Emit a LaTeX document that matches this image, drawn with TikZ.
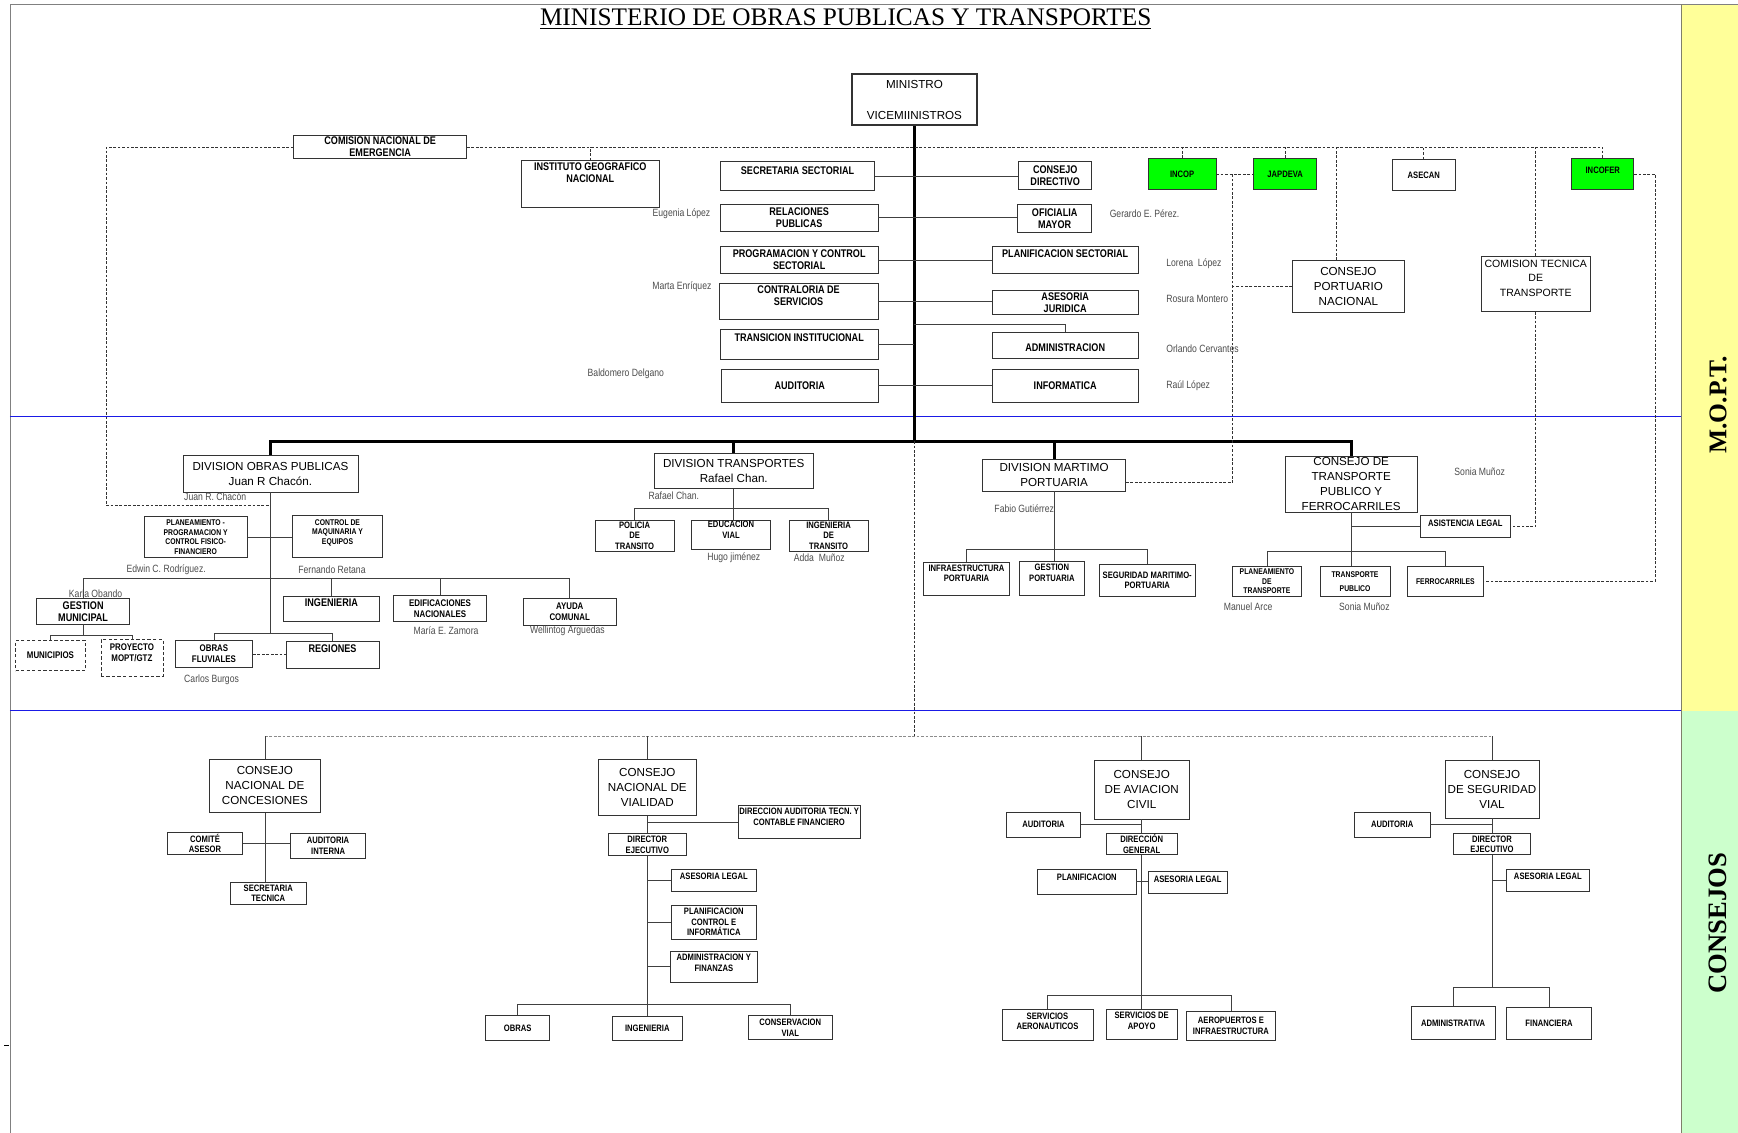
\documentclass[tikz,border=0pt]{standalone}
\usepackage{fontspec}
\setmainfont{Liberation Sans}
\newfontfamily\angosta[FakeStretch=0.82]{Liberation Sans}
\newfontfamily\serifa{Liberation Serif}
\definecolor{amarillo}{HTML}{FFFF99}
\definecolor{verdeclaro}{HTML}{CCFFCC}
\definecolor{verdecaja}{HTML}{00FF00}
\definecolor{azul}{HTML}{1A1AE6}
\definecolor{borde}{HTML}{7F7F6A}
\newcommand\fcaja{\angosta\bfseries\fontsize{10}{11}\selectfont}
\newcommand\fmedia{\angosta\bfseries\fontsize{8.7}{10}\selectfont}
\newcommand\fchica{\angosta\bfseries\fontsize{8.4}{9.5}\selectfont}
\newcommand\fmini{\angosta\bfseries\fontsize{7.5}{8.5}\selectfont}
\newcommand\fgrande{\fontsize{10.5}{13.5}\selectfont}
\newcommand\fnombre{\angosta\fontsize{9.5}{11}\selectfont}
\tikzset{
 caja/.style={draw=black!80,fill=white,line width=.6pt,inner sep=1pt,align=center,font=\fcaja},
 media/.style={caja,font=\fmedia},
 chica/.style={caja,font=\fchica},
 mini/.style={caja,font=\fmini},
 grande/.style={caja,font=\fgrande},
 tam/.style 2 args={minimum width=#1,minimum height=#2},
 verde/.style={fill=verdecaja},
 rayada/.style={densely dashed},
 linea/.style={draw=black!75,line width=.6pt},
 barra/.style={line width=2.6pt},
 punteada/.style={draw=black!80,line width=.6pt,dash pattern=on 2.5pt off 1.5pt},
 punteadagris/.style={draw=black!45,line width=.8pt,dash pattern=on 2.5pt off 1.5pt},
 nombre/.style={font=\fnombre,text=black!70,inner sep=0pt},
}
\begin{document}
\begin{tikzpicture}[x=1pt,y=-1pt]
\useasboundingbox(0,0)rectangle(1568,1022);
%fondo
\fill[amarillo](1517,4)rectangle(1568,641);
\fill[verdeclaro](1517,641)rectangle(1568,1022);
\draw[black!50,line width=.8pt](9,1022)--(9,4)--(1568,4);
\draw[borde,line width=1.5pt](1517,4)--(1517,1022);
\draw[azul,line width=.8pt](9,376)--(1517,376);
\draw[azul,line width=.8pt](9,641)--(1517,641);
\draw[line width=1pt](4,943)--(8,943);
\node[font=\serifa\fontsize{22.8}{23}\selectfont](titulo)at(763,17){\underline{MINISTERIO DE OBRAS PUBLICAS Y TRANSPORTES}};
\node[rotate=90,font=\serifa\bfseries\fontsize{23}{23}\selectfont](mopt)at(1550,365){M.O.P.T.};
\node[rotate=90,font=\serifa\bfseries\fontsize{24}{24}\selectfont](consejostxt)at(1550,833){CONSEJOS};
%ministro
\node[grande,tam={112}{46},line width=1.8pt](ministro)at(825,90){MINISTRO\\[14pt]VICEMIINISTROS};
%columna izquierda
\node[caja,tam={156}{21}](cne)at(343,132.5){COMISION NACIONAL DE\\EMERGENCIA};
\node[caja,tam={125}{42}](ign)at(532.5,166){INSTITUTO GEOGRAFICO\\NACIONAL\\[9pt]\mbox{}};
\node[caja,tam={139}{26}](secsec)at(719.5,159){SECRETARIA SECTORIAL\\\mbox{}};
\node[caja,tam={142}{25}](relpub)at(721,196.5){RELACIONES\\PUBLICAS};
\node[caja,tam={142}{25}](progctrl)at(721,234.5){PROGRAMACION Y CONTROL\\SECTORIAL};
\node[caja,tam={143}{32}](contral)at(720.5,272){CONTRALORIA DE\\SERVICIOS\\\mbox{}};
\node[caja,tam={142}{27}](transinst)at(721,310.5){TRANSICION INSTITUCIONAL\\\mbox{}};
\node[caja,tam={141}{30}](audit)at(721.5,348){AUDITORIA};
%columna derecha
\node[caja,tam={66}{25}](consdir)at(952,158.5){CONSEJO\\DIRECTIVO};
\node[caja,tam={67}{26}](ofimay)at(951.5,197){OFICIALIA\\MAYOR};
\node[caja,tam={132}{25}](plansec)at(961,234.5){PLANIFICACION SECTORIAL\\\mbox{}};
\node[caja,tam={132}{22}](asejur)at(961,273){ASESORIA\\JURIDICA};
\node[caja,tam={132}{23}](admin)at(961,311.5){\mbox{}\\ADMINISTRACION};
\node[caja,tam={132}{30}](informat)at(961,348){INFORMATICA};
%adscritos
\node[chica,verde,tam={61}{28}](incop)at(1066.5,157){INCOP};
\node[chica,verde,tam={57}{28}](japdeva)at(1159.5,157){JAPDEVA};
\node[chica,tam={57}{28}](asecan)at(1284.5,158){ASECAN};
\node[chica,verde,tam={56}{28}](incofer)at(1446,157){INCOFER\\[-3pt]\mbox{}};
\node[grande,tam={101}{47}](cpn)at(1216.5,258.5){CONSEJO\\PORTUARIO\\NACIONAL};
\node[grande,tam={99}{50},font=\fontsize{9.5}{13}\selectfont](ctt)at(1385.5,256){COMISION TECNICA\\DE\\TRANSPORTE\\[-3pt]\mbox{}};
%divisiones
\node[grande,tam={158}{33}](dop)at(244,427.5){DIVISION OBRAS PUBLICAS\\Juan R Chacón.};
\node[grande,tam={143}{32}](dtr)at(662,425){DIVISION TRANSPORTES\\Rafael Chan.};
\node[grande,tam={129}{29}](dmp)at(951,428.5){DIVISION MARTIMO\\PORTUARIA};
\node[grande,tam={119}{50},inner sep=0pt](ctpf)at(1219,437){CONSEJO DE\\TRANSPORTE\\PUBLICO Y\\FERROCARRILES};
%obras publicas
\node[mini,tam={93}{37}](planea)at(176.5,484.5){PLANEAMIENTO -\\PROGRAMACION Y\\CONTROL FISICO-\\FINANCIERO};
\node[mini,tam={81}{38}](ctrlmaq)at(304.5,484){CONTROL DE\\MAQUINARIA Y\\EQUIPOS\\\mbox{}};
\node[caja,tam={84}{23}](gesmun)at(75,551.5){GESTION\\MUNICIPAL};
\node[caja,tam={86}{23}](ingop)at(299,549.5){INGENIERIA\\\mbox{}};
\node[media,tam={84}{24}](edif)at(397,549){EDIFICACIONES\\NACIONALES};
\node[media,tam={84}{24}](ayuda)at(514,552){AYUDA\\COMUNAL};
\node[media,rayada,tam={63}{27}](muni)at(45.5,591.5){MUNICIPIOS};
\node[media,rayada,tam={56}{33}](proy)at(119,593.5){PROYECTO\\MOPT/GTZ\\\mbox{}};
\node[media,tam={70}{24}](fluv)at(193,590){OBRAS\\FLUVIALES};
\node[caja,tam={84}{24}](reg)at(300,591){REGIONES\\\mbox{}};
%transportes
\node[chica,tam={71}{28}](polic)at(572.5,483){POLICIA\\DE\\TRANSITO};
\node[chica,tam={71}{27}](educ)at(659.5,482.5){EDUCACION\\VIAL\\\mbox{}};
\node[chica,tam={71}{28}](ingtr)at(747.5,483){INGENIERIA\\DE\\TRANSITO};
%maritimo portuaria
\node[chica,tam={78}{30}](infra)at(872,522){INFRAESTRUCTURA\\PORTUARIA\\\mbox{}};
\node[chica,tam={58}{31}](gestp)at(949,521.5){GESTION\\PORTUARIA\\\mbox{}};
\node[chica,tam={86}{29}](segmar)at(1035,523.5){SEGURIDAD MARITIMO-\\PORTUARIA};
%transporte publico
\node[chica,tam={82}{20}](asleg)at(1322,475){ASISTENCIA LEGAL\\[-3pt]\mbox{}};
\node[mini,tam={62}{27}](plantr)at(1143,524.5){PLANEAMIENTO\\DE\\TRANSPORTE};
\node[mini,tam={63}{27}](transpub)at(1222.5,524.5){TRANSPORTE\\[4pt]PUBLICO};
\node[mini,tam={68}{27}](ferro)at(1304,524.5){FERROCARRILES};
%consejos
\node[grande,tam={100}{48}](cnc)at(239,709){CONSEJO\\NACIONAL DE\\CONCESIONES};
\node[chica,tam={68}{20}](comite)at(185,761){COMITÉ\\ASESOR};
\node[chica,tam={68}{22}](audint)at(296,763){AUDITORIA\\INTERNA};
\node[chica,tam={68}{20}](sectec)at(242,806){SECRETARIA\\TECNICA};
\node[grande,tam={89}{51}](cnv)at(584,710.5){CONSEJO\\NACIONAL DE\\VIALIDAD};
\node[chica,tam={110}{29}](diraud)at(721,741.5){DIRECCION AUDITORIA TECN. Y\\CONTABLE FINANCIERO\\\mbox{}};
\node[chica,tam={71}{20}](direj)at(584,762){DIRECTOR\\EJECUTIVO};
\node[chica,tam={76}{20}](asl1)at(644,794){ASESORIA LEGAL\\[-3pt]\mbox{}};
\node[chica,tam={76}{30}](planinf)at(644,832){PLANIFICACION\\CONTROL E\\INFORMÁTICA};
\node[chica,tam={78}{28}](admfin)at(644,872){ADMINISTRACION Y\\FINANZAS\\[-3pt]\mbox{}};
\node[chica,tam={58}{23}](obras)at(467,927.5){OBRAS};
\node[chica,tam={63}{22}](ingv)at(584,928){INGENIERIA};
\node[chica,tam={76}{22}](conserv)at(713,927){CONSERVACION\\VIAL};
\node[grande,tam={86}{53}](cac)at(1030,712.5){CONSEJO\\DE AVIACION\\CIVIL};
\node[chica,tam={67}{22}](audac)at(941.5,744){AUDITORIA};
\node[chica,tam={64}{19}](dirgen)at(1030,761.5){DIRECCIÓN\\GENERAL};
\node[chica,tam={89}{23}](planac)at(980.5,795.5){PLANIFICACION\\[-2pt]\mbox{}};
\node[chica,tam={71}{20}](asl2)at(1071.5,796){ASESORIA LEGAL\\[-4pt]\mbox{}};
\node[chica,tam={82}{28}](servaer)at(945,925){SERVICIOS\\AERONAUTICOS\\[-2pt]\mbox{}};
\node[chica,tam={64}{27}](servapo)at(1030,924.5){SERVICIOS DE\\APOYO\\[-2pt]\mbox{}};
\node[chica,tam={81}{27}](aerop)at(1110.5,925.5){AEROPUERTOS E\\INFRAESTRUCTURA};
\node[grande,tam={85}{52}](csv)at(1346,712){CONSEJO\\DE SEGURIDAD\\VIAL};
\node[chica,tam={68}{22}](audsv)at(1256,744){AUDITORIA};
\node[chica,tam={70}{19}](dirsv)at(1346,761.5){DIRECTOR\\EJECUTIVO};
\node[chica,tam={75}{20}](asl3)at(1396.5,794){ASESORIA LEGAL\\[-3pt]\mbox{}};
\node[chica,tam={76}{30}](admva)at(1311,923){ADMINISTRATIVA};
\node[chica,tam={77}{29}](finan)at(1397.5,923.5){FINANCIERA};
%nombres
\node[nombre,anchor=east](n1)at(641,193){Eugenia López};
\node[nombre,anchor=west](n2)at(1001,193){Gerardo E. Pérez.};
\node[nombre,anchor=east](n3)at(642,259){Marta Enríquez};
\node[nombre,anchor=west](n4)at(1052,238){Lorena\ \ López};
\node[nombre,anchor=west](n5)at(1052,270){Rosura Montero};
\node[nombre,anchor=west](n6)at(1052,315){Orlando Cervantes};
\node[nombre,anchor=west](n7)at(1052,348){Raúl López};
\node[nombre,anchor=west](n8)at(530,337){Baldomero Delgano};
\node[nombre,anchor=west](n9)at(166,448){Juan R. Chacón};
\node[nombre,anchor=west](n10)at(114,514){Edwin C. Rodríguez.};
\node[nombre,anchor=west](n11)at(269,514){Fernando Retana};
\node[nombre,anchor=west](n12)at(62,536){Karla Obando};
\node[nombre,anchor=west](n13)at(373,569){María E. Zamora};
\node[nombre,anchor=west](n14)at(478,569){Wellintog Arguedas};
\node[nombre,anchor=west](n15)at(166,613){Carlos Burgos};
\node[nombre,anchor=west](n16)at(585,447){Rafael Chan.};
\node[nombre,anchor=west](n17)at(638,503){Hugo jiménez};
\node[nombre,anchor=west](n18)at(716,503){Adda\ \ Muñoz};
\node[nombre,anchor=west](n19)at(897,459){Fabio Gutiérrez};
\node[nombre,anchor=west](n20)at(1312,426){Sonia Muñoz};
\node[nombre,anchor=west](n21)at(1104,547){Manuel Arce};
\node[nombre,anchor=west](n22)at(1208,547){Sonia Muñoz};
%lineas principales
\coordinate(eje)at(825,398);
\draw[barra](ministro.south)--(eje);
\draw[barra](dop.north)|-(eje)-|(ctpf.north);
\draw[barra](dtr.north)--(dtr.north|-eje);
\draw[barra](dmp.north)--(dmp.north|-eje);
%staff
\draw[linea](secsec.east)--(secsec.east-|consdir.west);
\draw[linea](relpub.east)--(relpub.east-|ofimay.west);
\draw[linea](progctrl.east)--(plansec.west);
\draw[linea](contral.east)--(contral.east-|asejur.west);
\draw[linea](transinst.east)--(transinst.east-|eje);
\draw[linea](audit.east)--(informat.west);
\coordinate(admrama)at(825,293);
\draw[linea](admrama)-|(admin.north);
%adscritos
\coordinate(cneizq)at(96,132.5);
\coordinate(cnebajo)at(96,456);
\coordinate(cnefin)at(1446,132.5);
\draw[punteada](cne.west)--(cneizq)--(cnebajo)--(cnebajo-|dop.south);
\draw[punteada](cne.east)--(cnefin)--(incofer.north);
\foreach \n in {ign,incop,japdeva,asecan,ctt}
 \draw[punteada](\n.north)--(\n.north|-cnefin);
\draw[punteada]([xshift=-11pt]cpn.north)--([xshift=-11pt]cpn.north|-cnefin);
\coordinate(japv)at(1112,157);
\draw[punteada](incop.east)--(japdeva.west);
\draw[punteada]([yshift=-7pt]dmp.east)-|(japv);
\draw[punteada](cpn.west)--(cpn.west-|japv);
\draw[punteada](ctt.south)|-(asleg.east);
\coordinate(incoferv)at(1493,157);
\draw[punteada](incofer.east)--(incoferv)|-(ferro.east);
%obras publicas
\coordinate(doprama)at(244,522);
\coordinate(dopfin)at(244,571);
\draw[linea](dop.south)--(dopfin);
\draw[linea](planea.east)--(planea.east-|ctrlmaq.west);
\draw[linea](gesmun.north)|-(doprama)-|(ayuda.north);
\draw[linea](ingop.north)--(ingop.north|-doprama);
\draw[linea](edif.north)--(edif.north|-doprama);
\draw[linea](fluv.north)|-(dopfin)-|(reg.north);
\draw[punteada](fluv.east)--(fluv.east-|reg.west);
\coordinate(gmrama)at(75,573);
\draw[linea](gesmun.south)--(gmrama);
\draw[linea](muni.north)|-(gmrama)-|(proy.north);
%transportes
\coordinate(dtrama)at(662,459);
\draw[linea](dtr.south)--(dtr.south|-educ.north);
\draw[linea](polic.north)|-(dtrama)-|(ingtr.north);
%maritimo
\coordinate(dmprama)at(951,496);
\draw[linea](dmp.south)--(dmp.south|-gestp.north);
\draw[linea](infra.north)|-(dmprama)-|(segmar.north);
%transporte publico
\coordinate(ctprama)at(1219,497);
\draw[linea](ctpf.south)--(ctpf.south|-transpub.north);
\draw[linea](asleg.west)--(asleg.west-|ctpf.south);
\draw[linea](plantr.north)|-(ctprama)-|(ferro.north);
%consejos
\coordinate(consejos)at(825,664);
\draw[punteada](eje)--(consejos);
\draw[punteadagris](cnc.north|-consejos)--(csv.north|-consejos);
\foreach \n in {cnc,cnv,cac,csv}
 \draw[linea](\n.north)--(\n.north|-consejos);
\draw[linea](cnc.south)--(cnc.south|-sectec.north);
\draw[linea](comite.east)--(comite.east-|audint.west);
\coordinate(cnvrama)at(584,906);
\draw[linea](cnv.south)--(direj.north);
\draw[linea](direj.south)--(ingv.north);
\draw[linea](diraud.west)--(diraud.west-|cnv.south);
\foreach \n in {asl1,planinf,admfin}
 \draw[linea](\n.west)--(\n.west-|direj.south);
\draw[linea](obras.north)|-(cnvrama)-|(conserv.north);
\coordinate(cacrama)at(1030,898);
\draw[linea](cac.south)--(dirgen.north);
\draw[linea](audac.east)--(audac.east-|cac.south);
\draw[linea](dirgen.south)--(servapo.north);
\draw[linea](planac.east)--(planac.east-|asl2.west);
\draw[linea](servaer.north)|-(cacrama)-|(aerop.north);
\coordinate(csvrama)at(1346,891);
\draw[linea](csv.south)--(dirsv.north);
\draw[linea](audsv.east)--(audsv.east-|csv.south);
\draw[linea](dirsv.south)--(csvrama);
\draw[linea](asl3.west)--(asl3.west-|dirsv.south);
\draw[linea](admva.north)|-(csvrama)-|(finan.north);
\end{tikzpicture}
\end{document}
